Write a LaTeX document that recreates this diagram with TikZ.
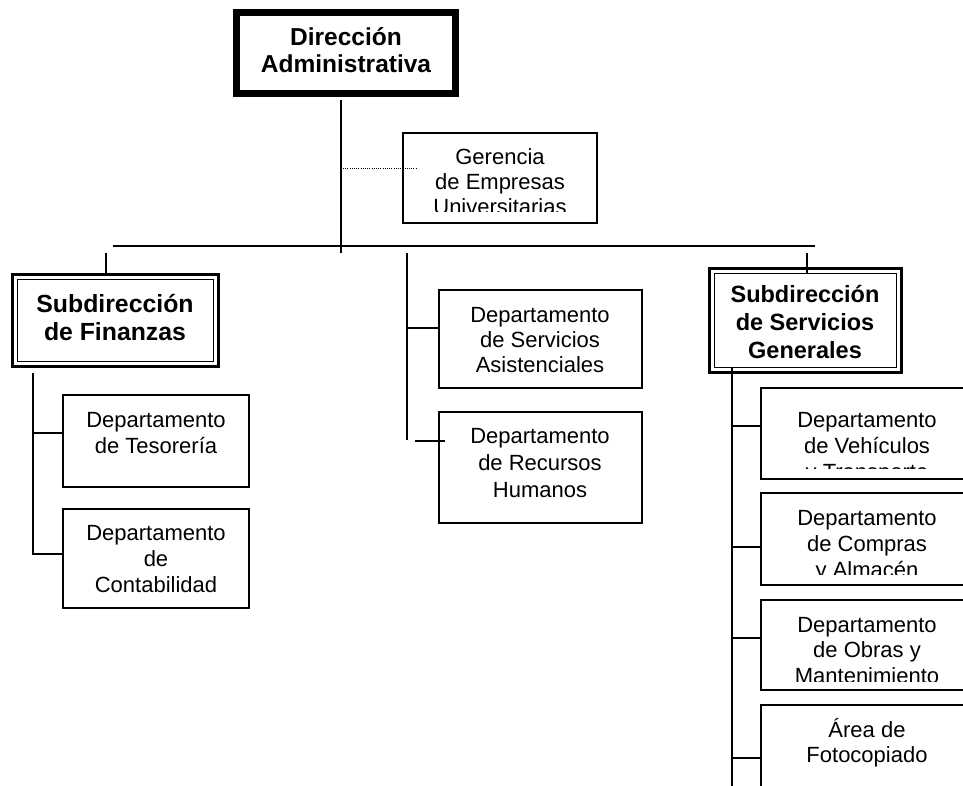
\documentclass[tikz,border=0pt]{standalone}
\usepackage{fontspec}
\setmainfont{Liberation Sans}
\usetikzlibrary{calc}
\newcommand\ffs[2]{\fontsize{#1}{#2}\selectfont}
\begin{document}
\begin{tikzpicture}[x=1pt,y=-1pt,
  box/.style={draw, line width=2pt, inner sep=0pt, outer sep=0pt},
  conn/.style={line width=2pt},
  txt/.style={align=center, inner sep=0pt, outer sep=0pt, anchor=base},
  reg/.style={txt, font={\ffs{22}{#1}}},
  bld/.style={txt, font={\bfseries\ffs{24.8}{#1}}}]
\useasboundingbox (0,0) rectangle (963,786);
\fill[white] (0,0) rectangle (963,786);
\clip (0,0) rectangle (963,786);

% ---- boxes ----
\node[box, line width=7pt, minimum width=219pt, minimum height=81pt] (dir) at (346,53) {};
\node[box, minimum width=194pt, minimum height=90pt] (ger) at (500,178) {};

\node[box, line width=3pt, minimum width=206pt, minimum height=92pt] (fin) at (115.5,320.5) {};
\node[box, line width=1.5pt, minimum width=196pt, minimum height=82pt] (fini) at (115.5,320.5) {};
\node[box, minimum width=186pt, minimum height=92pt] (tes) at (156,441) {};
\node[box, minimum width=186pt, minimum height=99pt] (con) at (156,558.5) {};

\node[box, minimum width=203pt, minimum height=98pt] (asis) at (540.5,339) {};
\node[box, minimum width=203pt, minimum height=111pt] (rec) at (540.5,467.5) {};

\node[box, line width=3pt, minimum width=192pt, minimum height=104pt] (sg) at (805.5,320.5) {};
\node[box, line width=1.5pt, minimum width=182pt, minimum height=94pt] (sgi) at (805.5,320.5) {};
\node[box, minimum width=214pt, minimum height=91pt] (veh) at (868,433.5) {};
\node[box, minimum width=214pt, minimum height=92pt] (com) at (868,539) {};
\node[box, minimum width=214pt, minimum height=90pt] (obr) at (868,645) {};
\node[box, minimum width=214pt, minimum height=95pt] (fot) at (868,752.5) {};

% ---- texts (anchor = baseline of last line) ----
\node[txt, font={\bfseries\ffs{24.5}{27}}] (dirt) at (346,73) {Dirección\\Administrativa};
\begin{scope}
  \clip (ger.north west) rectangle ([yshift=11pt]ger.south east);
  \node[reg=25] (gert) at (500,215) {Gerencia\\de Empresas\\Universitarias};
\end{scope}
\node[bld=28] (fint) at (115,340) {Subdirección\\de Finanzas};
\node[reg=26] (test) at (156,453) {Departamento\\de Tesorería};
\node[reg=26] (cont) at (156,592) {Departamento\\de\\Contabilidad};
\node[reg=25] (asist) at (540,372) {Departamento\\de Servicios\\Asistenciales};
\node[reg=27] (rect) at (540,497) {Departamento\\de Recursos\\Humanos};
\node[txt, font={\bfseries\ffs{23.5}{28}}] (sgt) at (805,358) {Subdirección\\de Servicios\\Generales};
\begin{scope}
  \clip (veh.north west) rectangle ([yshift=11pt]veh.south east);
  \node[reg=26] (veht) at (867,479) {Departamento\\de Vehículos\\y Transporte};
\end{scope}
\begin{scope}
  \clip (com.north west) rectangle ([yshift=11pt]com.south east);
  \node[reg=26] (comt) at (867,577) {Departamento\\de Compras\\y Almacén};
\end{scope}
\begin{scope}
  \clip (obr.north west) rectangle ([yshift=9pt]obr.south east);
  \node[reg=25.5] (obrt) at (867,683) {Departamento\\de Obras y\\Mantenimiento};
\end{scope}
\node[reg=25] (fott) at (867,762) {Área de\\Fotocopiado};

% ---- connectors ----
\coordinate (mbot) at (341,253);
\coordinate (barL) at (113,246);
\coordinate (barR) at (815,246);
\draw[conn] ([xshift=-5pt,yshift=-6.5pt]dir.south) -- (mbot);
\draw[conn] (barL) -- (barR);
\coordinate (dotL) at (343,169);
\draw[line width=1pt, dash pattern=on 1pt off 1.2pt] (dotL) -- ([xshift=14pt,yshift=9pt]ger.west);

% left branch
\coordinate (finD) at (106,253);
\draw[conn] (finD) -- (finD |- fin.north);
\coordinate (finV) at (33,373);
\coordinate (tesJ) at (33,433);
\draw[conn] (finV) |- ([yshift=4.5pt]con.west);
\draw[conn] (tesJ) -- (tes.west |- tesJ);

% middle branch
\coordinate (midT) at (407,253);
\coordinate (midB) at (407,440);
\coordinate (asisJ) at (407,328);
\coordinate (recJ) at (415,441);
\draw[conn] (midT) -- (midB);
\draw[conn] (asisJ) -- (asis.west |- asisJ);
\draw[conn] (recJ) -- ([xshift=6pt]rec.west |- recJ);

% right branch
\coordinate (sgD) at (807,253);
\draw[conn] (sgD) -- (sgD |- sgi.north);
\coordinate (sgV) at (732,367);
\coordinate (sgVb) at (732,790);
\draw[conn] (sgV) -- (sgVb);
\coordinate (vehJ) at (732,426);
\coordinate (comJ) at (732,547);
\coordinate (obrJ) at (732,638);
\coordinate (fotJ) at (732,758);
\draw[conn] (vehJ) -- (veh.west |- vehJ);
\draw[conn] (comJ) -- (com.west |- comJ);
\draw[conn] (obrJ) -- (obr.west |- obrJ);
\draw[conn] (fotJ) -- (fot.west |- fotJ);
\end{tikzpicture}
\end{document}
